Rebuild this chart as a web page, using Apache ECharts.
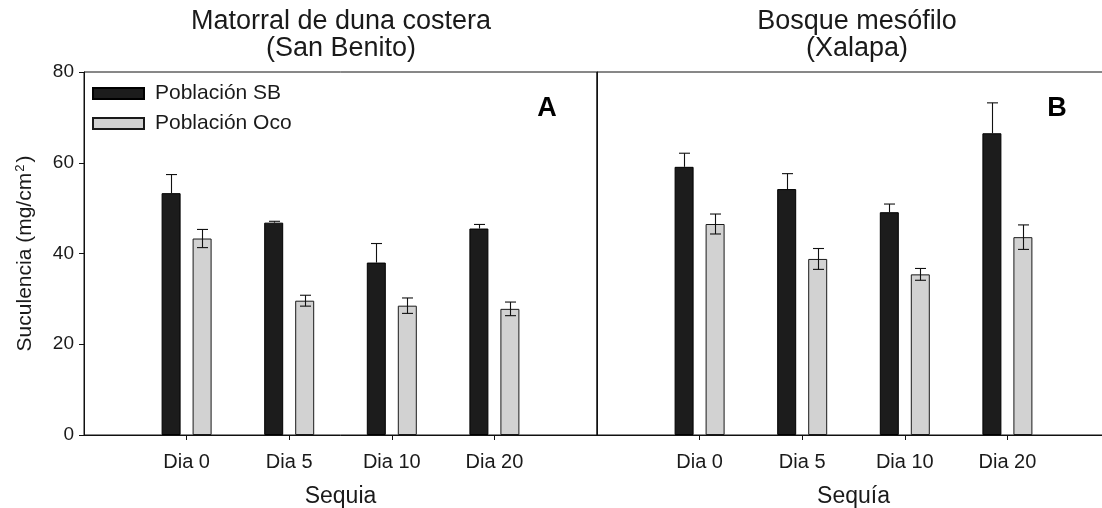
<!DOCTYPE html>
<html>
<head>
<meta charset="utf-8">
<script src="https://cdn.jsdelivr.net/npm/echarts@6/dist/echarts.min.js"></script>
<style>html,body{margin:0;padding:0;background:#fff}#c{width:1102px;height:508px}</style>
</head>
<body>
<div id="c"></div>
<script>
// ---- data ----
const categories = ['Dia 0', 'Dia 5', 'Dia 10', 'Dia 20'];
const seriesNames = ['Población SB', 'Población Oco'];
// Panel A: Matorral de duna costera (San Benito)
const a_SB = [53.3, 46.8, 38.0, 45.5];
const a_SB_err = [4.1, 0.3, 4.2, 0.9];
const a_Oco = [43.3, 29.6, 28.5, 27.8];
const a_Oco_err = [2.0, 1.2, 1.7, 1.5];
// Panel B: Bosque mesófilo (Xalapa)
const b_SB = [59.1, 54.2, 49.1, 66.5];
const b_SB_err = [3.0, 3.4, 1.8, 6.7];
const b_Oco = [46.5, 38.8, 35.4, 43.6];
const b_Oco_err = [2.2, 2.3, 1.3, 2.7];
const yTicks = [0, 20, 40, 60, 80];

// ---- style ----
const FONT = "'Liberation Sans', Arial, sans-serif";
const TXT = '#1a1a1a';
const BAR_W = 19, GAP_PX = 12;
const OFF = (BAR_W + GAP_PX) / 2;

const cats = [''].concat(categories, ['']);
const pad = arr => ['-'].concat(arr, ['-']);

function xAxis(gi, name) {
  return {
    type: 'category', gridIndex: gi, data: cats, boundaryGap: false,
    name: name, nameLocation: 'middle', nameGap: 50,
    nameTextStyle: { fontFamily: FONT, fontSize: 23, color: TXT },
    axisLine: { show: true, lineStyle: { color: '#111', width: 1 } },
    axisTick: { show: true, length: 5, inside: false, interval: (i) => i >= 1 && i <= categories.length, lineStyle: { color: '#111' } },
    axisLabel: { interval: 0, margin: 17, fontFamily: FONT, fontSize: 20, color: TXT },
    splitLine: { show: false }
  };
}
function yAxis(gi, showLabels) {
  return {
    type: 'value', gridIndex: gi, min: yTicks[0], max: yTicks[yTicks.length - 1], interval: 20,
    name: showLabels ? '{a|Suculencia (mg/cm}{s|2}{a|)}' : '', nameLocation: 'middle', nameGap: 47, nameRotate: 90,
    nameTextStyle: { fontFamily: FONT, fontSize: 21, color: TXT,
      rich: { a: { fontFamily: FONT, fontSize: 21, color: TXT }, s: { fontFamily: FONT, fontSize: 13, color: TXT, verticalAlign: 'top', padding: [0, 2, 10, 1] } } },
    axisLine: { show: true, lineStyle: { color: '#111', width: 1 } },
    axisTick: { show: showLabels, length: 5, lineStyle: { color: '#111' } },
    axisLabel: { show: showLabels, margin: 10, fontFamily: FONT, fontSize: 19, color: TXT },
    splitLine: { show: false }
  };
}
function barSeries(name, gi, vals, dark) {
  return {
    type: 'bar', name: name, xAxisIndex: gi, yAxisIndex: gi, data: pad(vals),
    barWidth: BAR_W, barGap: (GAP_PX / BAR_W * 100) + '%',
    itemStyle: dark ? { color: '#1c1c1c', borderColor: '#000', borderWidth: 1 }
                    : { color: '#d2d2d2', borderColor: '#1a1a1a', borderWidth: 1 },
    emphasis: { disabled: true }, z: 2
  };
}
function errSeries(gi, vals, errs, offset, upOnly) {
  return {
    type: 'custom', xAxisIndex: gi, yAxisIndex: gi, z: 5, silent: true,
    data: vals.map((v, i) => [i + 1, v, errs[i]]),
    renderItem: function (params, api) {
      const x = api.value(0), m = api.value(1), e = api.value(2);
      const hi = api.coord([x, m + e]);
      const lo = api.coord([x, upOnly ? m : m - e]);
      const cx = Math.round(hi[0] + offset) + 0.5;
      const cw = 5.5;
      const st = { stroke: '#111', lineWidth: 1.1 };
      const ch = [
        { type: 'line', shape: { x1: cx, y1: hi[1], x2: cx, y2: lo[1] }, style: st },
        { type: 'line', shape: { x1: cx - cw, y1: hi[1], x2: cx + cw, y2: hi[1] }, style: st }
      ];
      if (!upOnly) ch.push({ type: 'line', shape: { x1: cx - cw, y1: lo[1], x2: cx + cw, y2: lo[1] }, style: st });
      return { type: 'group', children: ch };
    }
  };
}

const chart = echarts.init(document.getElementById('c'), null, { renderer: 'canvas' });
chart.setOption({
  animation: false,
  backgroundColor: '#fff',
  textStyle: { fontFamily: FONT },
  grid: [
    { left: 84, top: 72, width: 513, height: 363, show: true, borderColor: '#111', borderWidth: 1, backgroundColor: 'transparent', outerBoundsMode: 'none', containLabel: false },
    { left: 597, top: 72, width: 513, height: 363, show: true, borderColor: '#111', borderWidth: 1, backgroundColor: 'transparent', outerBoundsMode: 'none', containLabel: false }
  ],
  xAxis: [xAxis(0, 'Sequia'), xAxis(1, 'Sequía')],
  yAxis: [yAxis(0, true), yAxis(1, false)],
  legend: {
    data: seriesNames, orient: 'vertical', left: 92, top: 83, padding: 0, itemWidth: 51, itemHeight: 11, itemGap: 9,
    icon: 'rect', selectedMode: false,
    textStyle: { fontFamily: FONT, fontSize: 21, color: TXT, lineHeight: 20, padding: [0, 0, 0, 6] }
  },
  series: [
    barSeries(seriesNames[0], 0, a_SB, true),
    barSeries(seriesNames[1], 0, a_Oco, false),
    barSeries(seriesNames[0], 1, b_SB, true),
    barSeries(seriesNames[1], 1, b_Oco, false),
    errSeries(0, a_SB, a_SB_err, -OFF, true),
    errSeries(0, a_Oco, a_Oco_err, OFF, false),
    errSeries(1, b_SB, b_SB_err, -OFF, true),
    errSeries(1, b_Oco, b_Oco_err, OFF, false)
  ],
  graphic: [
    { type: 'text', x: 341, y: 22, style: { text: 'Matorral de duna costera', font: "27px " + FONT, fill: TXT, textAlign: 'center', textVerticalAlign: 'middle' } },
    { type: 'text', x: 341, y: 49, style: { text: '(San Benito)', font: "27px " + FONT, fill: TXT, textAlign: 'center', textVerticalAlign: 'middle' } },
    { type: 'text', x: 857, y: 22, style: { text: 'Bosque mesófilo', font: "27px " + FONT, fill: TXT, textAlign: 'center', textVerticalAlign: 'middle' } },
    { type: 'text', x: 857, y: 49, style: { text: '(Xalapa)', font: "27px " + FONT, fill: TXT, textAlign: 'center', textVerticalAlign: 'middle' } },
    { type: 'text', x: 547, y: 109, style: { text: 'A', font: "bold 27px " + FONT, fill: '#000', textAlign: 'center', textVerticalAlign: 'middle' } },
    { type: 'text', x: 1057, y: 109, style: { text: 'B', font: "bold 27px " + FONT, fill: '#000', textAlign: 'center', textVerticalAlign: 'middle' } }
  ]
});
</script>
</body>
</html>
